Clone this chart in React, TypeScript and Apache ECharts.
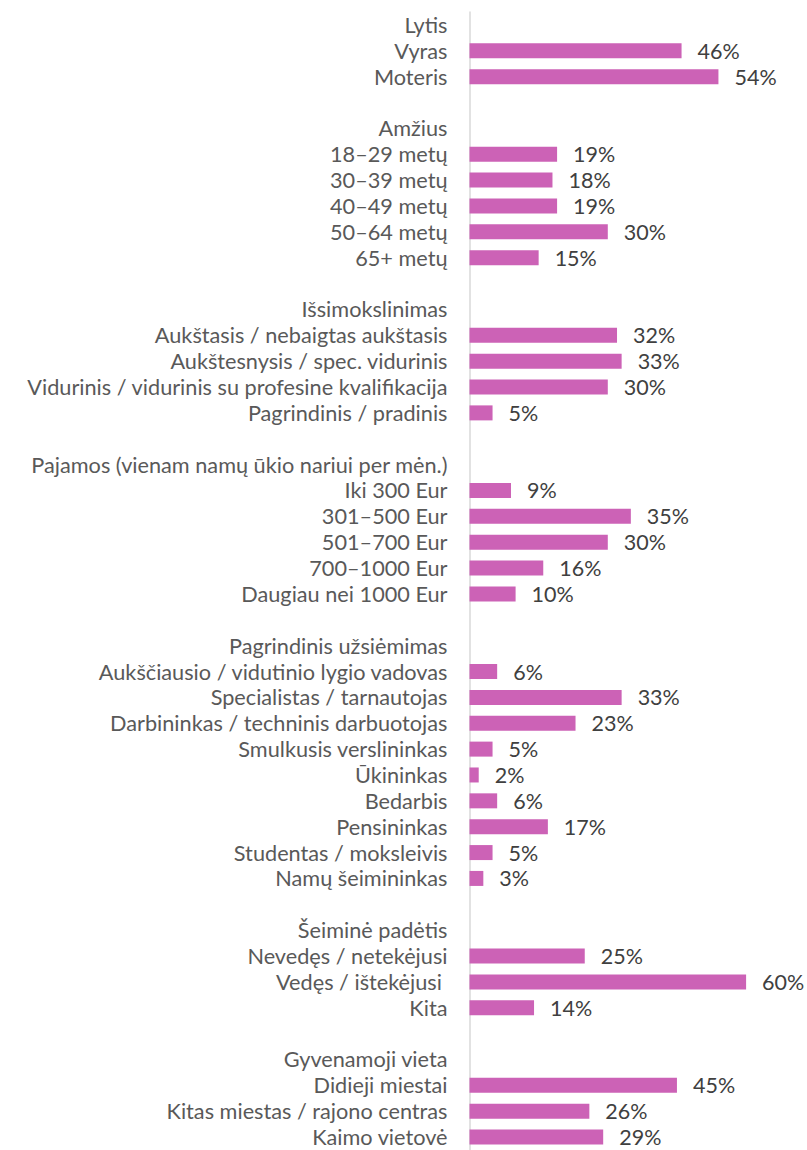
import React, { useEffect, useRef } from "react";
import * as echarts from "echarts";

const categories: string[] = [
  "Lytis",
  "Vyras",
  "Moteris",
  "",
  "Amžius",
  "18–29 metų",
  "30–39 metų",
  "40–49 metų",
  "50–64 metų",
  "65+ metų",
  "",
  "Išsimokslinimas",
  "Aukštasis / nebaigtas aukštasis",
  "Aukštesnysis / spec. vidurinis",
  "Vidurinis / vidurinis su profesine kvalifikacija",
  "Pagrindinis / pradinis",
  "",
  "Pajamos (vienam namų ūkio nariui per mėn.)",
  "Iki 300 Eur",
  "301–500 Eur",
  "501–700 Eur",
  "700–1000 Eur",
  "Daugiau nei 1000 Eur",
  "",
  "Pagrindinis užsiėmimas",
  "Aukščiausio / vidutinio lygio vadovas",
  "Specialistas / tarnautojas",
  "Darbininkas / techninis darbuotojas",
  "Smulkusis verslininkas",
  "Ūkininkas",
  "Bedarbis",
  "Pensininkas",
  "Studentas / moksleivis",
  "Namų šeimininkas",
  "",
  "Šeiminė padėtis",
  "Nevedęs / netekėjusi",
  "Vedęs / ištekėjusi ",
  "Kita",
  "",
  "Gyvenamoji vieta",
  "Didieji miestai",
  "Kitas miestas / rajono centras",
  "Kaimo vietovė",
];

const values: (number | null)[] = [
  null, 46, 54,
  null,
  null, 19, 18, 19, 30, 15,
  null,
  null, 32, 33, 30, 5,
  null,
  null, 9, 35, 30, 16, 10,
  null,
  null, 6, 33, 23, 5, 2, 6, 17, 5, 3,
  null,
  null, 25, 60, 14,
  null,
  null, 45, 26, 29,
];

export default function App() {
  const ref = useRef<HTMLDivElement>(null);
  useEffect(() => {
    document.body.style.margin = "0";
    if (!ref.current) return;
    const chart = echarts.init(ref.current, null, { renderer: "svg" });
    chart.setOption({
      animation: false,
      grid: { left: 469.5, top: 12, width: 276.6, height: 1140.6 },
      xAxis: {
        type: "value",
        min: 0,
        max: 60,
        show: false,
        splitLine: { show: false },
      },
      yAxis: {
        type: "category",
        inverse: true,
        data: categories,
        axisLine: { show: true, lineStyle: { color: "#D9D9D9", width: 1.5 } },
        axisTick: { show: false },
        axisLabel: {
          interval: 0,
          margin: 22,
          color: "#595959",
          fontSize: 21.7,
          fontFamily: "Lato",
        },
      },
      series: [
        {
          type: "bar",
          data: values,
          barWidth: 15,
          itemStyle: { color: "#CC62B6" },
          label: {
            show: true,
            position: "right",
            distance: 16,
            color: "#404040",
            fontSize: 21.5,
            fontFamily: "Lato",
            formatter: (p: any) => (p.value == null ? "" : p.value + "%"),
          },
        },
      ],
    });
    return () => chart.dispose();
  }, []);
  return <div ref={ref} style={{ width: 807, height: 1150 }} />;
}
